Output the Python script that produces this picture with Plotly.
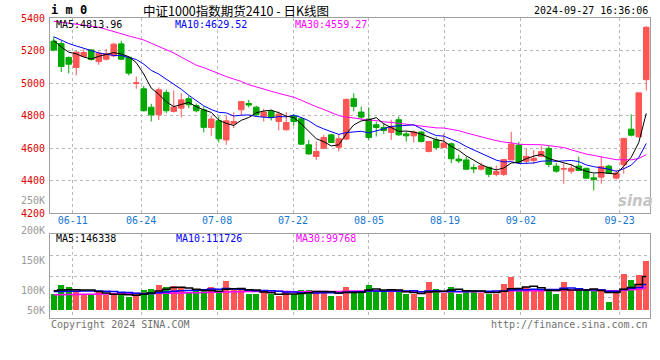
import plotly.graph_objects as go

# ---------------- data ----------------
dates = ["06-05", "06-06", "06-07", "06-11", "06-12", "06-13", "06-14", "06-17", "06-18", "06-19",
         "06-20", "06-21", "06-24", "06-25", "06-26", "06-27", "06-28",
         "07-01", "07-02", "07-03", "07-04", "07-05", "07-08", "07-09", "07-10", "07-11", "07-12",
         "07-15", "07-16", "07-17", "07-18", "07-19", "07-22", "07-23", "07-24", "07-25", "07-26",
         "07-29", "07-30", "07-31",
         "08-01", "08-02", "08-05", "08-06", "08-07", "08-08", "08-09", "08-12", "08-13", "08-14",
         "08-15", "08-16", "08-19", "08-20", "08-21", "08-22", "08-23", "08-26", "08-27", "08-28",
         "08-29", "08-30",
         "09-02", "09-03", "09-04", "09-05", "09-06", "09-09", "09-10", "09-11", "09-12", "09-13",
         "09-18", "09-19", "09-20", "09-23", "09-24", "09-25", "09-26", "09-27"]

opens = [5258, 5243, 5157, 5096, 5164, 5204, 5132, 5147, 5167, 5241,
         5159, 4998, 4965, 4852, 4805, 4942, 4826, 4846, 4904, 4862,
         4836, 4727, 4768, 4651, 4750, 4836, 4875, 4852, 4795, 4826,
         4764, 4713, 4795, 4781, 4621, 4549, 4600, 4682, 4606, 4656,
         4904, 4822, 4779, 4744, 4727, 4697, 4775, 4688, 4676, 4699,
         4580, 4651, 4604, 4627, 4533, 4528, 4481, 4471, 4483, 4439,
         4439, 4528, 4619, 4520, 4524, 4550, 4599, 4490, 4471, 4459,
         4490, 4477, 4418, 4422, 4490, 4416, 4498, 4717, 4670, 5021]
highs = [5285, 5258, 5165, 5198, 5208, 5206, 5194, 5210, 5249, 5260,
         5165, 5040, 4983, 4873, 4973, 4960, 4954, 4938, 4922, 4875,
         4856, 4799, 4795, 4799, 4820, 4890, 4897, 4861, 4842, 4836,
         4826, 4822, 4811, 4791, 4651, 4641, 4682, 4688, 4688, 4905,
         4938, 4856, 4850, 4764, 4754, 4775, 4795, 4703, 4709, 4707,
         4645, 4668, 4688, 4635, 4559, 4549, 4502, 4512, 4483, 4494,
         4534, 4701, 4640, 4595, 4589, 4615, 4615, 4510, 4508, 4504,
         4548, 4477, 4443, 4548, 4498, 4467, 4660, 4808, 4940, 5350]
lows = [5195, 5068, 5060, 5047, 5160, 5138, 5112, 5139, 5160, 5142,
        5047, 4965, 4826, 4764, 4773, 4815, 4819, 4789, 4846, 4820,
        4697, 4676, 4635, 4621, 4723, 4799, 4850, 4795, 4764, 4770,
        4709, 4709, 4738, 4620, 4559, 4528, 4594, 4631, 4580, 4650,
        4826, 4775, 4652, 4672, 4688, 4651, 4676, 4641, 4635, 4635,
        4574, 4590, 4600, 4508, 4508, 4467, 4446, 4463, 4422, 4427,
        4429, 4528, 4504, 4504, 4504, 4544, 4483, 4449, 4382, 4443,
        4459, 4412, 4341, 4382, 4443, 4408, 4443, 4672, 4666, 4954]
closes = [5203, 5102, 5116, 5190, 5188, 5145, 5184, 5180, 5239, 5147,
          5061, 5002, 4830, 4805, 4959, 4830, 4853, 4897, 4867, 4830,
          4728, 4779, 4658, 4768, 4764, 4887, 4865, 4805, 4822, 4789,
          4809, 4758, 4764, 4625, 4565, 4580, 4666, 4635, 4658, 4900,
          4856, 4791, 4666, 4727, 4709, 4733, 4682, 4676, 4699, 4641,
          4641, 4604, 4631, 4535, 4522, 4471, 4473, 4492, 4440, 4457,
          4530, 4626, 4514, 4550, 4538, 4579, 4500, 4459, 4475, 4477,
          4463, 4416, 4408, 4487, 4447, 4447, 4660, 4680, 4940, 5343]
volumes = [70000, 110000, 100000, 91000, 70000, 70000, 78000, 67000, 67000, 70000,
           58000, 70000, 88000, 93000, 110000, 98000, 105000, 95000, 77000, 81000,
           81000, 100000, 74000, 124000, 88000, 88000, 71000, 71000, 81000, 70000,
           60000, 77000, 70000, 88000, 88000, 85000, 81000, 63000, 63000, 100000,
           84000, 84000, 110000, 84000, 81000, 88000, 81000, 70000, 70000, 56000,
           120000, 93000, 74000, 98000, 71000, 88000, 88000, 74000, 70000, 70000,
           114000, 141000, 81000, 98000, 91000, 81000, 88000, 71000, 120000, 81000,
           81000, 88000, 93000, 91000, 38000, 81000, 157000, 131000, 152000, 209000]

# moving-average values before a full window exists
ma5_head = [5262, 5222, 5190, 5180]
ma10_head = [5285, 5262, 5243, 5228, 5212, 5200, 5185, 5178, 5170]
ma30_head = [5380, 5375, 5368, 5362, 5356, 5350, 5343, 5330, 5316, 5300,
             5290, 5278, 5265, 5245, 5225, 5205, 5185, 5160, 5135, 5110,
             5095, 5075, 5058, 5040, 5025, 5010, 4990, 4975, 4962]
vma5_head = [85000, 88000, 90000, 90000]
vma10_head = [82000, 82000, 83000, 83000, 84000, 84000, 84000, 83000, 82000]
vma30_head = [68000, 68000, 69000, 69000, 70000, 70000, 71000, 71000, 72000, 72000,
              73000, 73000, 74000, 74000, 75000, 75000, 76000, 76000, 77000, 77000,
              78000, 79000, 79000, 80000, 81000, 81000, 82000, 82000, 83000]

tick_labels = ["06-11", "06-24", "07-08", "07-22", "08-05", "08-19", "09-02", "09-23"]
price_ticks = [4200, 4400, 4600, 4800, 5000, 5200, 5400]
vol_axis_labels = ["250K", "200K", "150K", "100K", "50K"]

title_text = "中证1000指数期货2410 - 日K线图"
code_text = "i m 0"
time_text = "2024-09-27 16:36:06"
ma_price_texts = ["MA5:4813.96", "MA10:4629.52", "MA30:4559.27"]
ma_vol_texts = ["MA5:146338", "MA10:111726", "MA30:99768"]

# ---------------- helpers ----------------
def moving_average(vals, n, head):
    out = []
    for i in range(len(vals)):
        if i < n - 1:
            out.append(head[i])
        else:
            out.append(sum(vals[i - n + 1:i + 1]) / n)
    return out

N = len(dates)
xs = list(range(N))
ma5 = moving_average(closes, 5, ma5_head)
ma10 = moving_average(closes, 10, ma10_head)
ma30 = moving_average(closes, 30, ma30_head)
vma5 = moving_average(volumes, 5, vma5_head)
vma10 = moving_average(volumes, 10, vma10_head)
vma30 = moving_average(volumes, 30, vma30_head)

RED = "#ff5555"
GREEN = "#00a800"
BLUE = "#0000ff"
MAGENTA = "#ff00ff"
GRID = "#b8b8b8"
FRAME = "#a0a0a0"
MONO = "DejaVu Sans Mono"

W, H = 660, 360
# plot area in window pixels: x 50..650, y 18..318
PX0, PX1, PY0, PY1 = 50, 650, 18, 318
ML, MT = PX0, PY0
MR, MB = W - PX1, H - PY1
PW, PH = PX1 - PX0, PY1 - PY0


def xp(px):
    return (px - PX0) / PW


def yp(py):
    return (PY1 - py) / PH


# date gridlines (sina spreads them over N-1 steps)
tick_pos = [dates.index(d) * N / (N - 1) - 0.5 for d in tick_labels]

vol_lo, vol_hi = -31200, 326500
vol_grid = [vol_lo + (vol_hi - vol_lo) * k / 4 for k in (1, 2, 3)]

vol_colors = [RED if c >= o else GREEN for o, c in zip(opens, closes)]

fig = go.Figure()

fig.add_trace(go.Candlestick(
    x=xs, open=opens, high=highs, low=lows, close=closes,
    increasing=dict(line=dict(color=RED, width=1), fillcolor=RED),
    decreasing=dict(line=dict(color=GREEN, width=1), fillcolor=GREEN),
    whiskerwidth=0, hoverinfo="skip", showlegend=False,
    xaxis="x", yaxis="y"))

for vals, col in ((ma30, MAGENTA), (ma10, BLUE), (ma5, "#000000")):
    fig.add_trace(go.Scatter(x=xs, y=vals, mode="lines",
                             line=dict(color=col, width=1),
                             hoverinfo="skip", showlegend=False,
                             xaxis="x", yaxis="y"))

fig.add_trace(go.Bar(x=xs, y=volumes, marker=dict(color=vol_colors, line=dict(width=0)),
                     width=0.78, hoverinfo="skip", showlegend=False,
                     xaxis="x2", yaxis="y2"))

for vals, col in ((vma30, MAGENTA), (vma10, BLUE), (vma5, "#000000")):
    fig.add_trace(go.Scatter(x=xs, y=vals, mode="lines",
                             line=dict(color=col, width=1.5, shape="hvh"),
                             hoverinfo="skip", showlegend=False,
                             xaxis="x2", yaxis="y2"))

axis_common = dict(showline=True, mirror=True, linecolor=FRAME, linewidth=1,
                   zeroline=False, showgrid=True, gridcolor=GRID, griddash="dot",
                   gridwidth=1, ticks="", automargin=False, fixedrange=True)

fig.update_layout(
    width=W, height=H,
    margin=dict(l=ML, r=MR, t=MT, b=MB, autoexpand=False),
    paper_bgcolor="white", plot_bgcolor="white",
    boxgap=0.14, boxgroupgap=0.14,
    bargap=0,
    showlegend=False,
    hovermode=False,
    xaxis=dict(domain=[0, 1], anchor="y", range=[-0.5, N - 0.5],
               tickmode="array", tickvals=tick_pos, ticktext=tick_labels,
               tickfont=dict(family=MONO, size=10, color="#1576d2"),
               ticklabelstandoff=-2,
               rangeslider=dict(visible=False), **axis_common),
    yaxis=dict(domain=[yp(213.3), 1], anchor="x", range=[4200, 5400],
               tickmode="array", tickvals=price_ticks,
               ticktext=[str(v) for v in price_ticks],
               tickfont=dict(family=MONO, size=10, color="#e00000"),
               ticklabelstandoff=2, **axis_common),
    xaxis2=dict(domain=[0, 1], anchor="y2", matches="x", range=[-0.5, N - 0.5],
                tickmode="array", tickvals=tick_pos, showticklabels=False,
                **axis_common),
    yaxis2=dict(domain=[0, yp(234.3)], anchor="x2", range=[vol_lo, vol_hi],
                tickmode="array", tickvals=vol_grid, showticklabels=False,
                **axis_common),
)

ann = []


def add_text(text, px, py, anchor="left", color="#000000", size=10, family=MONO):
    ann.append(dict(text=text, x=xp(px), y=yp(py), xref="paper", yref="paper",
                    xanchor=anchor, yanchor="middle", showarrow=False,
                    font=dict(family=family, size=size, color=color)))


add_text("<b>" + code_text + "</b>", 49, 10, size=12)
add_text(title_text, 236, 10, anchor="center", size=12.5, family="Noto Sans CJK SC")
add_text(time_text, 650, 11, anchor="right")

for txt, px, col in zip(ma_price_texts, (54, 173, 293), ("#000000", BLUE, MAGENTA)):
    add_text(txt, px, 24, color=col)
for txt, px, col in zip(ma_vol_texts, (54, 174, 294), ("#000000", BLUE, MAGENTA)):
    add_text(txt, px, 238.5, color=col)

for txt, py in zip(vol_axis_labels, (200, 230.7, 260.7, 290, 310)):
    add_text(txt, 47, py, anchor="right", color="#9a9a9a")

add_text("Copyright 2024 SINA.COM", 49, 324, color="#707070")
add_text("http://finance.sina.com.cn", 650, 324, anchor="right", color="#707070")

add_text("<b><i>sina</i></b>", 635, 201, anchor="center", color="#c4c4c4", size=15,
         family="DejaVu Sans")

fig.update_layout(annotations=ann)

# remove the default 8px page margin so the figure fills the window exactly
fig.write_html("out.html", config={"displayModeBar": False},
               post_script="document.body.style.margin='0px';")
